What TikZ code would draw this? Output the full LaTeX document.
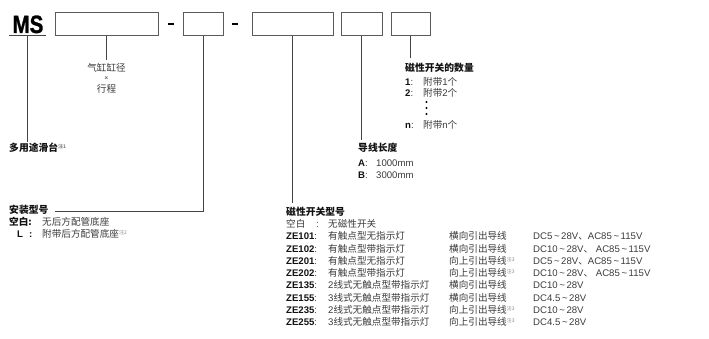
\documentclass[tikz,border=0pt]{standalone}
\usepackage{fontspec}
\setmainfont{Liberation Sans}
\newfontfamily\cjk{Noto Sans CJK SC}
\newfontfamily\heavy[BoldFeatures={FakeBold=1.2}]{Liberation Sans}
\newcommand\zh[1]{{\cjk #1}}
\newcommand\tld{\,\textasciitilde\,}
\definecolor{txt}{HTML}{3A3A3A}
\definecolor{hd}{HTML}{111111}
\definecolor{boxc}{HTML}{5A5A5A}
\definecolor{lnc}{HTML}{444444}
\definecolor{notec}{HTML}{888888}
\newcommand\zhu[1]{\raisebox{3.2pt}{\fontsize{5}{5}\selectfont\color{notec}\cjk 注#1}}
\newcommand\zerow[6]{%
  \node[lt] (#2c) at (286,#1) {\textbf{\color{hd}#3}:};
  \node[lt] (#2d) at (328,#1) {#4};
  \node[lt] (#2e) at (449,#1) {#5};
  \node[lt] (#2f) at (533,#1) {#6};}
\begin{document}
\begin{tikzpicture}[x=1pt,y=-1pt,
  box/.style={draw=boxc,line width=0.8pt,rectangle,minimum height=23.5pt,inner sep=0},
  ln/.style={draw=lnc,line width=0.8pt},
  lt/.style={anchor=base west,inner sep=0,text=txt,font=\fontsize{9.6}{11}\selectfont},
  ct/.style={lt,anchor=base},
  ht/.style={lt,text=hd,font=\fontsize{9.8}{11}\selectfont\cjk\bfseries},
  dashbar/.style={fill=black,draw=none,minimum width=6pt,minimum height=2.6pt,inner sep=0,rectangle}]
\useasboundingbox (0,0) rectangle (709,339);
% header
\node[inner sep=0,anchor=base,font=\heavy\bfseries\fontsize{25}{25}\selectfont] (ms) at (28,33) {\scalebox{0.82}[1]{MS}};
\coordinate (ul1) at (9,35.5);
\coordinate (ul2) at (46,35.5);
\draw[ln] (ul1) -- (ul2);
\node[box,minimum width=103pt] (b1) at (106.5,24) {};
\node[dashbar] (d1) at (171,24) {};
\node[box,minimum width=40.5pt] (b2) at (203.5,24) {};
\node[dashbar] (d2) at (235,24) {};
\node[box,minimum width=81pt] (b3) at (292.5,24) {};
\node[box,minimum width=41pt] (b4) at (361.5,24) {};
\node[box,minimum width=39pt] (b5) at (410.5,24) {};
% MS branch
\coordinate (msl) at (27.7,35.5);
\coordinate (msend) at (27.7,142);
\draw[ln] (msl) -- (msend);
\node[ht] (use) at (9,151.6) {多用途滑台\zhu{1}};
% box1 branch
\coordinate (c1) at (106.5,60);
\draw[ln] (b1.south) -- (c1);
\node[ct] (bore) at (106.5,71.6) {\zh{气缸缸径}};
\node[ct,font=\fontsize{7}{7}\selectfont] (times) at (106.5,80.8) {×};
\node[ct] (stroke) at (106.5,92.6) {\zh{行程}};
% box2 branch
\coordinate (c2) at (55,211);
\draw[ln] (b2.south) |- (c2);
\node[ht] (mount) at (9,213.6) {安装型号};
\node[lt,text=hd,font=\fontsize{9.6}{11}\selectfont\cjk\bfseries] (m1a) at (9,225.6) {空白:};
\node[lt] (m1b) at (42,225.6) {\zh{无后方配管底座}};
\node[lt,text=hd,font=\fontsize{9.6}{11}\selectfont\bfseries] (m2a) at (17,237.6) {L};
\node[lt,text=hd,font=\fontsize{9.6}{11}\selectfont\bfseries] (m2c) at (29,237.6) {:};
\node[lt] (m2b) at (42,237.6) {\zh{附带后方配管底座}\zhu{2}};
% box3 branch
\coordinate (c3) at (292.5,203);
\draw[ln] (b3.south) -- (c3);
\node[ht] (swt) at (286,215.6) {磁性开关型号};
\node[lt] (s0a) at (286,227.6) {\zh{空白}};
\node[lt] (s0c) at (316,227.6) {:};
\node[lt] (s0b) at (328,227.6) {\zh{无磁性开关}};
\zerow{239.85}{r1}{ZE101}{\zh{有触点型无指示灯}}{\zh{横向引出导线}}{DC5\tld 28V\zh{、}AC85\tld 115V}
\zerow{252.1}{r2}{ZE102}{\zh{有触点型带指示灯}}{\zh{横向引出导线}}{DC10\tld 28V\zh{、} AC85\tld 115V}
\zerow{264.35}{r3}{ZE201}{\zh{有触点型无指示灯}}{\zh{向上引出导线}\zhu{3}}{DC5\tld 28V\zh{、}AC85\tld 115V}
\zerow{276.6}{r4}{ZE202}{\zh{有触点型带指示灯}}{\zh{向上引出导线}\zhu{3}}{DC10\tld 28V\zh{、} AC85\tld 115V}
\zerow{288.85}{r5}{ZE135}{2\zh{线式无触点型带指示灯}}{\zh{横向引出导线}}{DC10\tld 28V}
\zerow{301.1}{r6}{ZE155}{3\zh{线式无触点型带指示灯}}{\zh{横向引出导线}}{DC4.5\tld 28V}
\zerow{313.35}{r7}{ZE235}{2\zh{线式无触点型带指示灯}}{\zh{向上引出导线}\zhu{3}}{DC10\tld 28V}
\zerow{325.6}{r8}{ZE255}{3\zh{线式无触点型带指示灯}}{\zh{向上引出导线}\zhu{3}}{DC4.5\tld 28V}
% box4 branch
\coordinate (c4) at (361.5,140);
\draw[ln] (b4.south) -- (c4);
\node[ht] (lead) at (358,151.6) {导线长度};
\node[lt] (la) at (358,166.6) {\textbf{\color{hd}A}:};
\node[lt] (lav) at (376,166.6) {1000mm};
\node[lt] (lb) at (358,178.6) {\textbf{\color{hd}B}:};
\node[lt] (lbv) at (376,178.6) {3000mm};
% box5 branch
\coordinate (c5) at (410.5,58);
\draw[ln] (b5.south) -- (c5);
\node[ht] (qty) at (405,71.6) {磁性开关的数量};
\node[lt] (q1) at (405,85.3) {\textbf{\color{hd}1}:};
\node[lt] (q1b) at (423,85.3) {\zh{附带}1\zh{个}};
\node[lt] (q2) at (405,96.3) {\textbf{\color{hd}2}:};
\node[lt] (q2b) at (423,96.3) {\zh{附带}2\zh{个}};
\foreach \yy [count=\k] in {102,108,114} \fill[black] (426.5,\yy) circle (1.1pt) coordinate (dot\k);
\node[lt] (qn) at (405,128.6) {\textbf{\color{hd}n}:};
\node[lt] (qnb) at (423,128.6) {\zh{附带}n\zh{个}};
\end{tikzpicture}
\end{document}
